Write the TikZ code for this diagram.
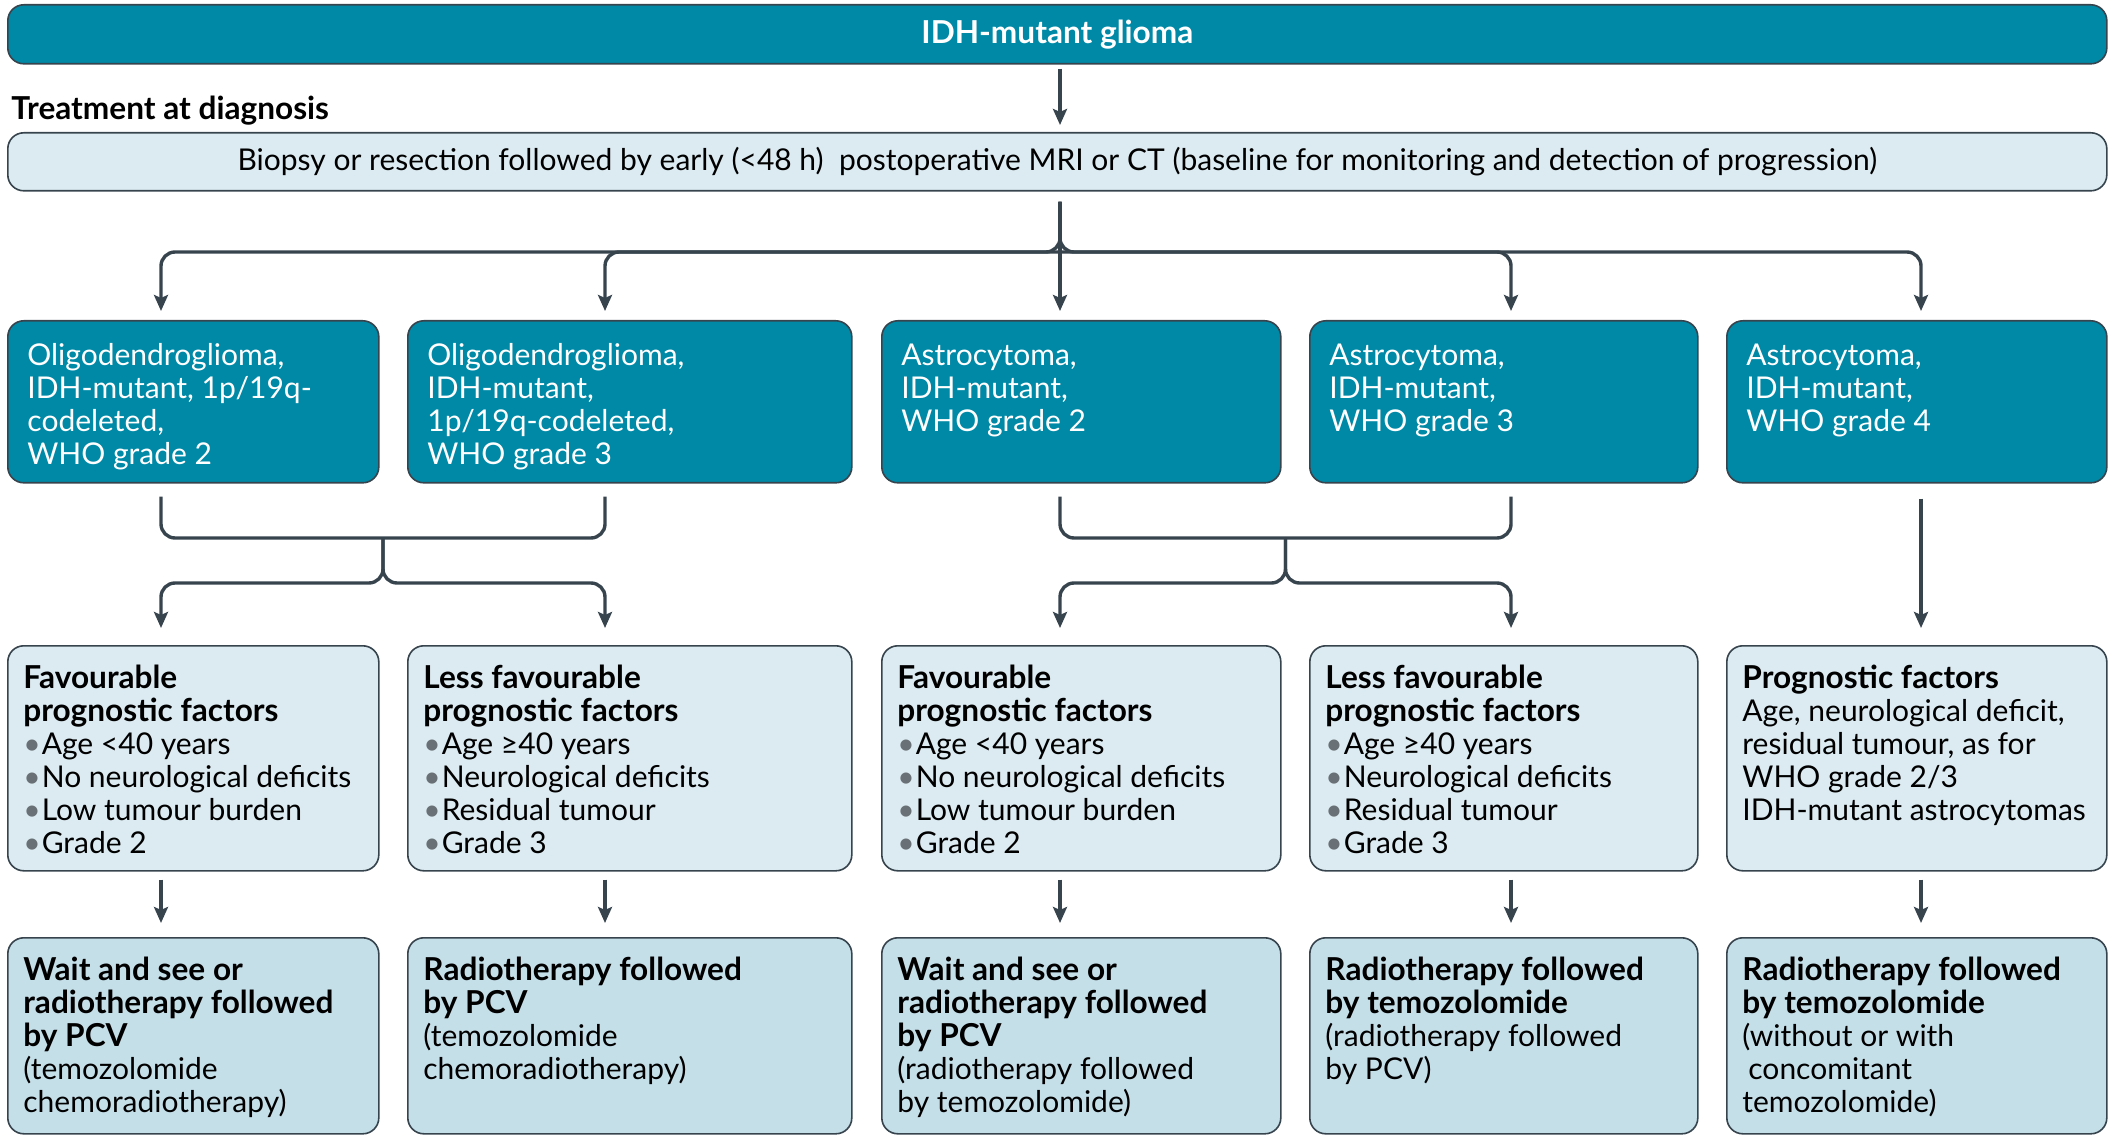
\documentclass[tikz,border=0pt]{standalone}
\usepackage{fontspec}
\setmainfont{Lato}
\usepackage{xcolor}
\definecolor{teal_gl}{RGB}{0,137,166}
\definecolor{light_gl}{RGB}{220,235,241}
\definecolor{mid_gl}{RGB}{197,223,233}
\definecolor{line_gl}{RGB}{55,68,78}
\definecolor{dot_gl}{RGB}{105,113,118}
\usepackage{tikz}
\usetikzlibrary{calc,arrows.meta,positioning}
\newcommand{\fs}{\fontsize{15pt}{16.5pt}\selectfont\lineskiplimit=-6pt}
\newcommand{\hd}[1]{{\fontsize{15.8pt}{16.5pt}\selectfont\bfseries #1}}
\newcommand{\bul}{{\color{dot_gl}\textbullet}\hspace{0.5pt}}

\begin{document}
\begin{tikzpicture}
[	x=0.5pt, y=-0.5pt,
	box/.style = {draw=line_gl, line width=0.8pt, rounded corners=8pt, anchor=north west, inner sep=0pt},
	dark/.style = {box, fill=teal_gl},
	light/.style = {box, fill=light_gl},
	mid/.style = {box, fill=mid_gl},
	txt/.style = {inner sep=0pt, align=left, font=\fs},
	con/.style = {draw=line_gl, line width=1.7pt, rounded corners=7pt},
	arr/.style = {con, -{Stealth[length=8pt,width=7pt,inset=1.5pt]}}
]
\useasboundingbox (0,0) rectangle (2108,1138);

% header and biopsy
\node(glioma)[dark, minimum width=1049.5pt, minimum height=29.5pt, text=white] at (7,4) {\hd{IDH-mutant glioma}};
\node(tad)[txt, anchor=base west] at (11,120) {\hd{Treatment at diagnosis}};
\node(biopsy)[light, minimum width=1049.5pt, minimum height=29pt, font=\fs] at (7,132) {Biopsy or resection followed by early (<48 h)\ \ postoperative MRI or CT (baseline for monitoring and detection of progression)};

% diagnoses
\node(oligo2)[dark, minimum width=185.5pt, minimum height=81pt] at (7,320) {};
\node(oligo3)[dark, minimum width=222pt, minimum height=81pt] at (407,320) {};
\node(astro2)[dark, minimum width=199.5pt, minimum height=81pt] at (881,320) {};
\node(astro3)[dark, minimum width=194pt, minimum height=81pt] at (1309,320) {};
\node(astro4)[dark, minimum width=190pt, minimum height=81pt] at (1726,320) {};

\node(oligo2txt)[txt, text=white, below right=11pt and 10pt of oligo2.north west] {\strut Oligodendroglioma,\\IDH-mutant, 1p/19q-\\codeleted,\\WHO grade 2};
\node(oligo3txt)[txt, text=white, below right=11pt and 10pt of oligo3.north west] {\strut Oligodendroglioma,\\IDH-mutant,\\1p/19q-codeleted,\\WHO grade 3};
\node(astro2txt)[txt, text=white, below right=11pt and 10pt of astro2.north west] {\strut Astrocytoma,\\IDH-mutant,\\WHO grade 2};
\node(astro3txt)[txt, text=white, below right=11pt and 10pt of astro3.north west] {\strut Astrocytoma,\\IDH-mutant,\\WHO grade 3};
\node(astro4txt)[txt, text=white, below right=11pt and 10pt of astro4.north west] {\strut Astrocytoma,\\IDH-mutant,\\WHO grade 4};

% prognostic factors
\node(fac1)[light, minimum width=185.5pt, minimum height=112.5pt] at (7,645) {};
\node(fac2)[light, minimum width=222pt, minimum height=112.5pt] at (407,645) {};
\node(fac3)[light, minimum width=199.5pt, minimum height=112.5pt] at (881,645) {};
\node(fac4)[light, minimum width=194pt, minimum height=112.5pt] at (1309,645) {};
\node(fac5)[light, minimum width=190pt, minimum height=112.5pt] at (1726,645) {};

\node(fac1txt)[txt, below right=10pt and 8pt of fac1.north west] {\strut\hd{Favourable}\\\hd{prognostic factors}\\\bul Age <40 years\\\bul No neurological deficits\\\bul Low tumour burden\\\bul Grade 2};
\node(fac2txt)[txt, below right=10pt and 8pt of fac2.north west] {\strut\hd{Less favourable}\\\hd{prognostic factors}\\\bul Age ≥40 years\\\bul Neurological deficits\\\bul Residual tumour\\\bul Grade 3};
\node(fac3txt)[txt, below right=10pt and 8pt of fac3.north west] {\strut\hd{Favourable}\\\hd{prognostic factors}\\\bul Age <40 years\\\bul No neurological deficits\\\bul Low tumour burden\\\bul Grade 2};
\node(fac4txt)[txt, below right=10pt and 8pt of fac4.north west] {\strut\hd{Less favourable}\\\hd{prognostic factors}\\\bul Age ≥40 years\\\bul Neurological deficits\\\bul Residual tumour\\\bul Grade 3};
\node(fac5txt)[txt, below right=10pt and 8pt of fac5.north west] {\strut\hd{Prognostic factors}\\Age, neurological deficit,\\residual tumour, as for\\WHO grade 2/3\\IDH-mutant astrocytomas};

% treatment
\node(ther1)[mid, minimum width=185.5pt, minimum height=98pt] at (7,937) {};
\node(ther2)[mid, minimum width=222pt, minimum height=98pt] at (407,937) {};
\node(ther3)[mid, minimum width=199.5pt, minimum height=98pt] at (881,937) {};
\node(ther4)[mid, minimum width=194pt, minimum height=98pt] at (1309,937) {};
\node(ther5)[mid, minimum width=190pt, minimum height=98pt] at (1726,937) {};

\node(ther1txt)[txt, below right=10pt and 8pt of ther1.north west] {\strut\hd{Wait and see or}\\\hd{radiotherapy followed}\\\hd{by PCV}\\(temozolomide\\chemoradiotherapy)};
\node(ther2txt)[txt, below right=10pt and 8pt of ther2.north west] {\strut\hd{Radiotherapy followed}\\\hd{by PCV}\\(temozolomide\\chemoradiotherapy)};
\node(ther3txt)[txt, below right=10pt and 8pt of ther3.north west] {\strut\hd{Wait and see or}\\\hd{radiotherapy followed}\\\hd{by PCV}\\(radiotherapy followed\\by temozolomide)};
\node(ther4txt)[txt, below right=10pt and 8pt of ther4.north west] {\strut\hd{Radiotherapy followed}\\\hd{by temozolomide}\\(radiotherapy followed\\by PCV)};
\node(ther5txt)[txt, below right=10pt and 8pt of ther5.north west] {\strut\hd{Radiotherapy followed}\\\hd{by temozolomide}\\(without or with\\\hspace{3pt}concomitant\\temozolomide)};

% columns and levels of the connectors
\coordinate(col1) at (161,0);
\coordinate(col2) at (605,0);
\coordinate(col3) at (1060,0);
\coordinate(col4) at (1511,0);
\coordinate(col5) at (1921,0);
\coordinate(lvl1) at (0,252);
\coordinate(lvl2) at (0,538);
\coordinate(lvl3) at (0,583);
\coordinate(mid12) at ($(col1)!0.5!(col2)$);
\coordinate(mid34) at ($(col3)!0.5!(col4)$);

% header -- biopsy
\draw[arr, shorten <=2pt, shorten >=3.5pt] (glioma.south -| col3) -- (biopsy.north -| col3);

% fork to the five diagnoses
\draw[arr, shorten <=5pt, shorten >=4.5pt] (biopsy.south -| col3) -- (astro2.north -| col3);
\draw[arr, shorten <=5pt, shorten >=4.5pt] (biopsy.south -| col3) -- (lvl1 -| col3) -- (lvl1 -| col1) -- (oligo2.north -| col1);
\draw[arr, shorten <=5pt, shorten >=4.5pt] (biopsy.south -| col3) -- (lvl1 -| col3) -- (lvl1 -| col5) -- (astro4.north -| col5);
\draw[arr, shorten >=4.5pt] (lvl1 -| col3) -- (lvl1 -| col2) -- (oligo3.north -| col2);
\draw[arr, shorten >=4.5pt] (lvl1 -| col3) -- (lvl1 -| col4) -- (astro3.north -| col4);

% bracket oligodendroglioma
\draw[con, shorten <=6.5pt, shorten >=6.5pt] (oligo2.south -| col1) -- (lvl2 -| col1) -- (lvl2 -| col2) -- (oligo3.south -| col2);
\draw[arr, shorten >=8.5pt] (lvl2 -| mid12) -- (lvl3 -| mid12) -- (lvl3 -| col1) -- (fac1.north -| col1);
\draw[arr, shorten >=8.5pt] (lvl2 -| mid12) -- (lvl3 -| mid12) -- (lvl3 -| col2) -- (fac2.north -| col2);

% bracket astrocytoma
\draw[con, shorten <=6.5pt, shorten >=6.5pt] (astro2.south -| col3) -- (lvl2 -| col3) -- (lvl2 -| col4) -- (astro3.south -| col4);
\draw[arr, shorten >=8.5pt] (lvl2 -| mid34) -- (lvl3 -| mid34) -- (lvl3 -| col3) -- (fac3.north -| col3);
\draw[arr, shorten >=8.5pt] (lvl2 -| mid34) -- (lvl3 -| mid34) -- (lvl3 -| col4) -- (fac4.north -| col4);

% grade 4
\draw[arr, shorten <=7.5pt, shorten >=8.5pt] (astro4.south -| col5) -- (fac5.north -| col5);

% factors -- treatment
\draw[arr, shorten <=4pt, shorten >=7pt] (fac1.south -| col1) -- (ther1.north -| col1);
\draw[arr, shorten <=4pt, shorten >=7pt] (fac2.south -| col2) -- (ther2.north -| col2);
\draw[arr, shorten <=4pt, shorten >=7pt] (fac3.south -| col3) -- (ther3.north -| col3);
\draw[arr, shorten <=4pt, shorten >=7pt] (fac4.south -| col4) -- (ther4.north -| col4);
\draw[arr, shorten <=4pt, shorten >=7pt] (fac5.south -| col5) -- (ther5.north -| col5);

\end{tikzpicture}
\end{document}
